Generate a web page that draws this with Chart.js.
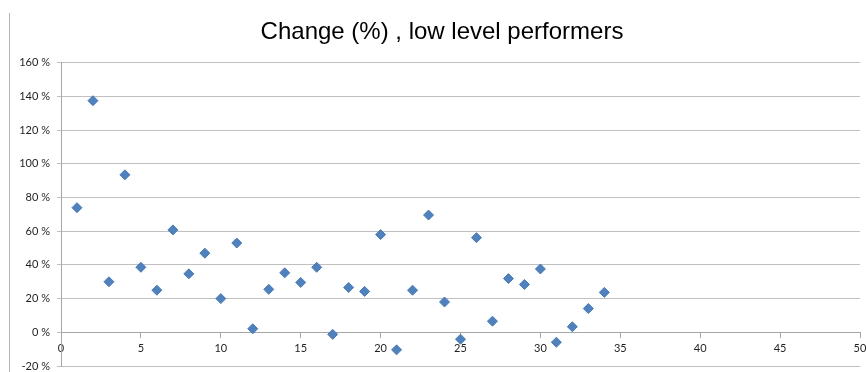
<!DOCTYPE html>
<html>
<head>
<meta charset="utf-8">
<script src="https://cdn.jsdelivr.net/npm/chart.js@4/dist/chart.umd.min.js"></script>
<style>
  html, body { margin: 0; padding: 0; background: #ffffff; }
  #wrap { width: 866px; height: 372px; position: relative; }
</style>
</head>
<body>
<div id="wrap"><canvas id="chart" width="866" height="372"></canvas></div>
<script>
// Performer index (x) and change in percent (y)
const performerIds = [1, 2, 3, 4, 5, 6, 7, 8, 9, 10, 11, 12, 13, 14, 15, 16, 17,
  18, 19, 20, 21, 22, 23, 24, 25, 26, 27, 28, 29, 30, 31, 32, 33, 34];
const changePct = [74, 137.5, 30, 93.5, 38.6, 25, 60.8, 34.7, 47, 20, 53, 2.1, 25.5,
  35.3, 29.6, 38.6, -1.2, 26.6, 24.3, 58, -10.4, 25, 69.6, 18, -4.1, 56.2, 6.6,
  31.9, 28.4, 37.6, -5.9, 3.3, 14.1, 23.7];

const xTicks = [0, 5, 10, 15, 20, 25, 30, 35, 40, 45, 50];
const yTicks = [-20, 0, 20, 40, 60, 80, 100, 120, 140, 160];

const points = performerIds.map((id, i) => ({ x: id, y: changePct[i] }));

// Thin outer frame line on the left of the chart object,
// and the title centred over the frame rather than the whole canvas
const frameLine = {
  id: 'frameLine',
  afterLayout(chart) {
    if (chart.titleBlock) {
      chart.titleBlock.left = 23;
    }
  },
  beforeDraw(chart) {
    const ctx = chart.ctx;
    ctx.save();
    ctx.strokeStyle = '#b4b4b4';
    ctx.lineWidth = 1;
    ctx.beginPath();
    ctx.moveTo(9.5, 13);
    ctx.lineTo(9.5, 372);
    ctx.stroke();
    ctx.restore();
  }
};

const tickFont = { family: 'Lato', size: 11 };

new Chart(document.getElementById('chart'), {
  type: 'scatter',
  data: {
    datasets: [{
      label: 'Change (%)',
      data: points,
      pointStyle: 'rectRot',
      pointRadius: 5,
      pointHoverRadius: 5,
      backgroundColor: '#4f81bd',
      borderColor: '#4a7ab5',
      borderWidth: 1
    }]
  },
  options: {
    responsive: false,
    animation: false,
    layout: { padding: { left: 0, right: 5, top: 0, bottom: 5 } },
    plugins: {
      legend: { display: false },
      tooltip: { enabled: false },
      title: {
        display: true,
        text: 'Change (%) , low level performers',
        color: '#000000',
        font: { family: 'Liberation Sans', size: 24, weight: 'normal', lineHeight: 1.2 },
        padding: { top: 18, bottom: 16 }
      }
    },
    scales: {
      x: {
        type: 'linear',
        position: { y: 0 },
        min: xTicks[0],
        max: xTicks[xTicks.length - 1],
        afterBuildTicks(scale) { scale.ticks = xTicks.map(v => ({ value: v })); },
        afterFit(scale) {
          // axis sits on the zero line inside the plot, so it takes no layout room
          scale.height = 0;
          scale.paddingLeft = 0;
          scale.paddingRight = 0;
        },
        ticks: { color: '#1f1f1f', font: tickFont, padding: 5, maxRotation: 0 },
        grid: { drawOnChartArea: false, drawTicks: true, tickLength: 5, color: '#a6a6a6' },
        border: { color: '#a6a6a6', width: 1 }
      },
      y: {
        type: 'linear',
        min: yTicks[0],
        max: yTicks[yTicks.length - 1],
        afterBuildTicks(scale) { scale.ticks = yTicks.map(v => ({ value: v })); },
        afterFit(scale) {
          scale.width = 61;
          scale.paddingTop = 0;
          scale.paddingBottom = 0;
        },
        ticks: {
          color: '#1f1f1f',
          font: tickFont,
          padding: 7,
          callback: v => v + ' %'
        },
        grid: { color: '#c0c0c0', tickLength: 4, lineWidth: 1 },
        border: { color: '#a6a6a6', width: 1 }
      }
    }
  },
  plugins: [frameLine]
});
</script>
</body>
</html>
